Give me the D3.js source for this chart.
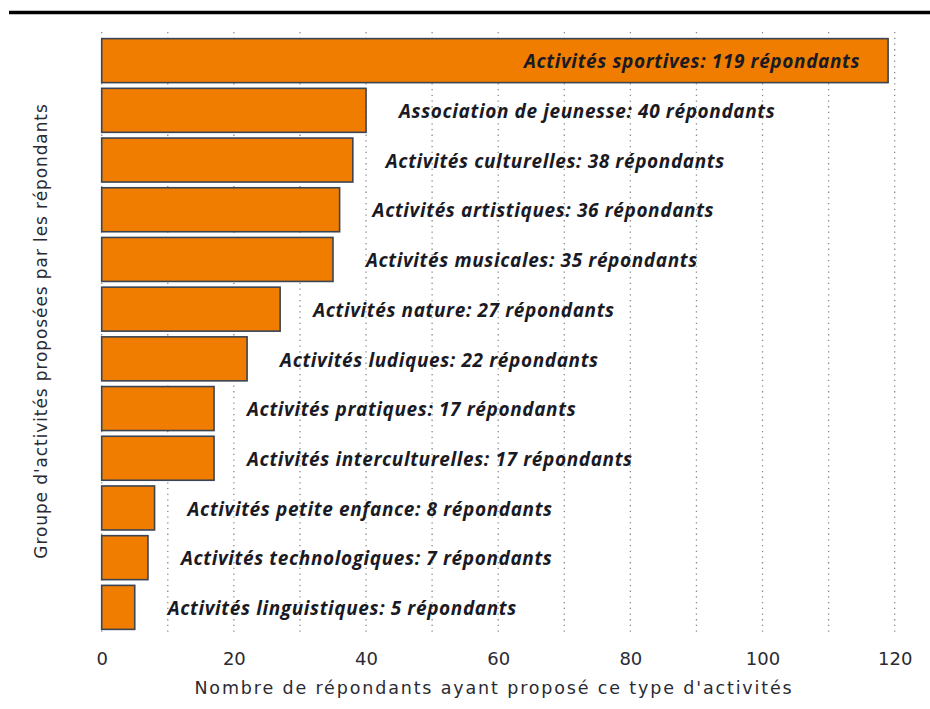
<!DOCTYPE html>
<html>
<head>
<meta charset="utf-8">
<script src="https://cdn.jsdelivr.net/npm/d3@7"></script>
<style>
  body { margin: 0; background: #fff; }
  svg { display: block; }
</style>
</head>
<body>
<script>
// activity groups, top to bottom
const categories = [
  "Activités sportives", "Association de jeunesse", "Activités culturelles",
  "Activités artistiques", "Activités musicales", "Activités nature",
  "Activités ludiques", "Activités pratiques", "Activités interculturelles",
  "Activités petite enfance", "Activités technologiques", "Activités linguistiques"
];
const counts = [119, 40, 38, 36, 35, 27, 22, 17, 17, 8, 7, 5];
const xTicks = [0, 20, 40, 60, 80, 100, 120];
const gridValues = [0, 10, 20, 30, 40, 50, 60, 70, 80, 90, 100, 110, 120];

const data = categories.map((c, i) => ({ name: c, value: counts[i] }));

const width = 930, height = 709;

const svg = d3.select('body')
  .append('svg')
  .attr('width', width)
  .attr('height', height);

// black rule across the top
svg.append('line')
  .attr('x1', 9).attr('x2', width)
  .attr('y1', 12.5).attr('y2', 12.5)
  .attr('stroke', '#000')
  .attr('stroke-width', 3.5);

const xScale = d3.scaleLinear()
  .domain([0, 120])
  .range([101.7, 894.7]);

const yScale = d3.scaleBand()
  .domain(categories)
  .range([35.5, 632.5])
  .paddingInner(0.115)
  .paddingOuter(0.063);

// dotted vertical grid
svg.append('g')
  .selectAll('line')
  .data(gridValues)
  .enter()
  .append('line')
  .attr('x1', d => xScale(d))
  .attr('x2', d => xScale(d))
  .attr('y1', 32)
  .attr('y2', 633)
  .attr('stroke', '#8a8a8a')
  .attr('stroke-width', 1.3)
  .attr('stroke-dasharray', '1.3 4.4');

// bars
svg.append('g')
  .selectAll('rect')
  .data(data)
  .enter()
  .append('rect')
  .attr('x', xScale(0))
  .attr('y', d => yScale(d.name))
  .attr('width', d => xScale(d.value) - xScale(0))
  .attr('height', yScale.bandwidth())
  .attr('fill', '#f07d00')
  .attr('stroke', '#3a4452')
  .attr('stroke-width', 1.6);

// value labels
svg.append('g')
  .selectAll('text')
  .data(data)
  .enter()
  .append('text')
  .attr('x', d => d.value > 100 ? xScale(d.value) - 28 : xScale(d.value) + 33)
  .attr('y', d => yScale(d.name) + yScale.bandwidth() / 2 + 1)
  .attr('dy', '0.35em')
  .attr('text-anchor', d => d.value > 100 ? 'end' : 'start')
  .style('font-family', '"Open Sans", sans-serif')
  .style('font-weight', 'bold')
  .style('font-style', 'italic')
  .style('font-size', '19px')
  .style('letter-spacing', '0.62px')
  .style('fill', '#1a1a24')
  .text(d => `${d.name}: ${d.value} répondants`);

// x axis
const xAxis = d3.axisBottom(xScale)
  .tickValues(xTicks)
  .tickSize(0)
  .tickPadding(0);

const gx = svg.append('g')
  .attr('transform', 'translate(0, 652)')
  .call(xAxis);
gx.select('.domain').remove();
gx.selectAll('text')
  .style('font-family', '"DejaVu Sans", sans-serif')
  .style('font-size', '18px')
  .style('fill', '#2a2a33');

svg.append('text')
  .attr('x', 494)
  .attr('y', 694)
  .attr('text-anchor', 'middle')
  .style('font-family', '"DejaVu Sans", sans-serif')
  .style('font-size', '17.5px')
  .style('letter-spacing', '1.85px')
  .style('fill', '#2a2a33')
  .text("Nombre de répondants ayant proposé ce type d'activités");

svg.append('text')
  .attr('transform', 'translate(47, 331) rotate(-90)')
  .attr('text-anchor', 'middle')
  .style('font-family', '"DejaVu Sans", sans-serif')
  .style('font-size', '17px')
  .style('letter-spacing', '0.9px')
  .style('fill', '#2a2a33')
  .text("Groupe d'activités proposées par les répondants");
</script>
</body>
</html>
